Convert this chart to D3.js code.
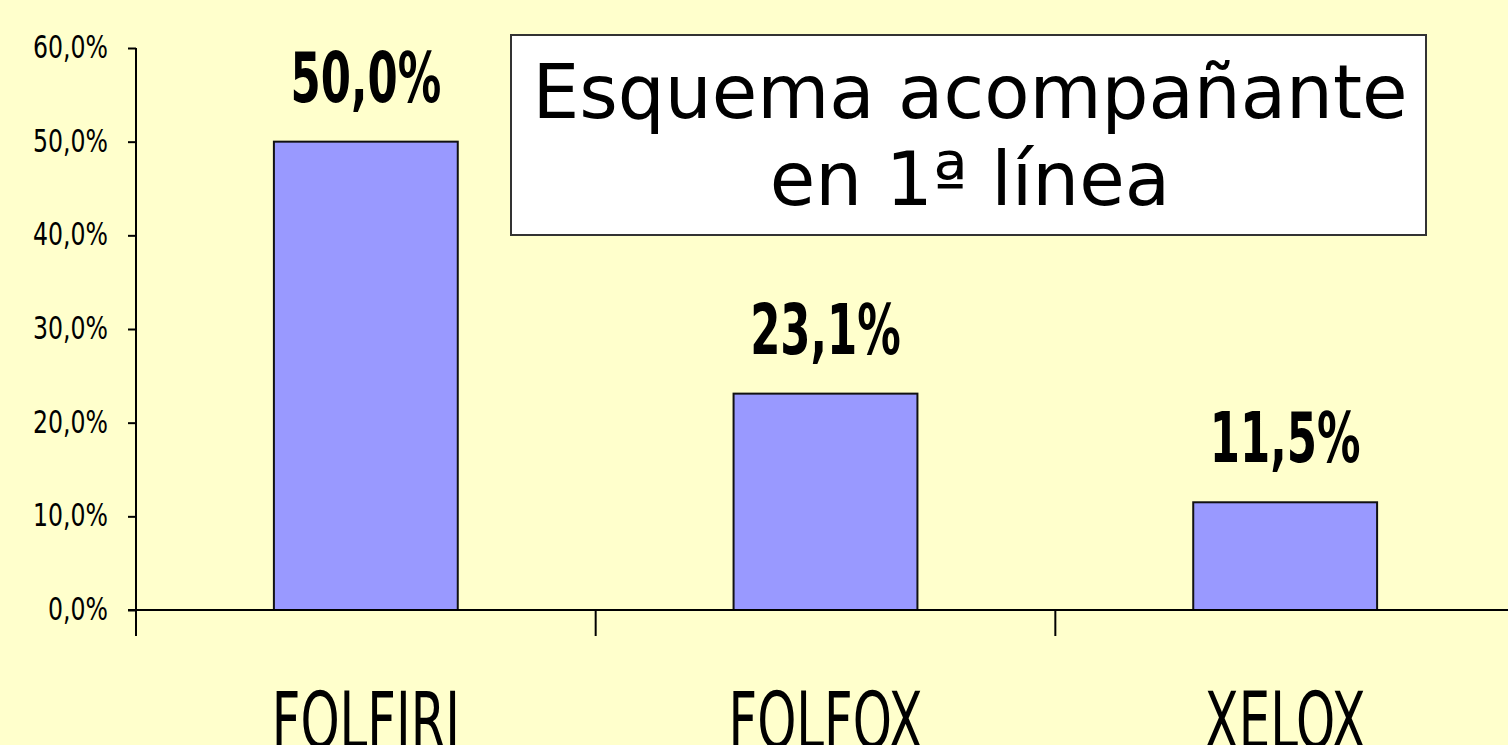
<!DOCTYPE html>
<html lang="es">
<head>
  <meta charset="UTF-8">
  <title>Esquema acompañante en 1ª línea</title>
  <script src="https://d3js.org/d3.v7.min.js"></script>
  <style>
    html, body { margin: 0; padding: 0; background: #ffffcc; overflow: hidden; }
    svg { display: block; }
    .narrow { font-family: "DejaVu Sans Condensed", "Liberation Sans", sans-serif; fill: #000; }
    .title { font-family: "DejaVu Sans", Verdana, sans-serif; fill: #000; }
  </style>
</head>
<body>
  <svg width="1508" height="745"></svg>

  <script>
    // chart data
    const categories = ["FOLFIRI", "FOLFOX", "XELOX"];
    const values = [0.500, 0.231, 0.115];
    const yTicks = [0, 0.1, 0.2, 0.3, 0.4, 0.5, 0.6];
    const titleLines = ["Esquema acompañante", "en 1ª línea"];

    const width = 1508, height = 745;
    const svg = d3.select("svg");

    svg.append("rect")
       .attr("width", width).attr("height", height)
       .attr("fill", "#ffffcc");

    // scales
    const y = d3.scaleLinear().domain([0, 0.6]).range([610, 48]);
    const x = d3.scaleBand()
                .domain(categories)
                .range([136, 1515])
                .paddingInner(0.6)
                .paddingOuter(0.3);

    const fmt = v => d3.format(".1f")(v * 100).replace(".", ",") + "%";

    // y axis
    const yAxis = svg.append("g")
                     .attr("transform", "translate(136,0)")
                     .call(d3.axisLeft(y).tickValues(yTicks).tickSize(8).tickFormat(fmt));
    yAxis.select(".domain").remove();
    yAxis.selectAll(".tick line").attr("stroke", "#000").attr("stroke-width", 2);
    yAxis.selectAll(".tick text")
         .attr("class", "narrow")
         .attr("x", 0)
         .attr("dy", "0.3em")
         .attr("font-size", 32)
         .attr("text-anchor", "end")
         .attr("transform", "translate(-28,0) scale(0.82,1)");

    svg.append("line")
       .attr("x1", 136).attr("x2", 136)
       .attr("y1", y(0.6)).attr("y2", 636)
       .attr("stroke", "#000").attr("stroke-width", 2);

    // bars
    svg.append("g")
       .selectAll("rect")
       .data(categories)
       .join("rect")
       .attr("x", d => x(d))
       .attr("y", (d, i) => y(values[i]))
       .attr("width", x.bandwidth())
       .attr("height", (d, i) => y(0) - y(values[i]))
       .attr("fill", "#9999ff")
       .attr("stroke", "#111")
       .attr("stroke-width", 2);

    // x axis line and category dividers
    svg.append("line")
       .attr("x1", 128).attr("x2", width)
       .attr("y1", y(0)).attr("y2", y(0))
       .attr("stroke", "#000").attr("stroke-width", 2);

    svg.append("g")
       .selectAll("line")
       .data(d3.range(categories.length + 1))
       .join("line")
       .attr("x1", i => 136 + i * x.step())
       .attr("x2", i => 136 + i * x.step())
       .attr("y1", y(0)).attr("y2", 636)
       .attr("stroke", "#000").attr("stroke-width", 2);

    // category labels (bottom edge cut as in the original slide)
    svg.append("g")
       .selectAll("text")
       .data(categories)
       .join("text")
       .attr("class", "narrow")
       .attr("font-size", 78)
       .attr("text-anchor", "middle")
       .attr("transform", d => `translate(${x(d) + x.bandwidth() / 2},748) scale(0.71,1)`)
       .text(d => d);

    // value labels
    svg.append("g")
       .selectAll("text")
       .data(categories)
       .join("text")
       .attr("class", "narrow")
       .attr("font-size", 70)
       .attr("font-weight", "bold")
       .attr("text-anchor", "middle")
       .attr("transform", (d, i) => `translate(${x(d) + x.bandwidth() / 2},${y(values[i]) - 40}) scale(0.69,1)`)
       .text((d, i) => fmt(values[i]));

    // title box
    svg.append("rect")
       .attr("x", 511).attr("y", 35)
       .attr("width", 915).attr("height", 200)
       .attr("fill", "#fff")
       .attr("stroke", "#333").attr("stroke-width", 2);

    svg.append("g")
       .selectAll("text")
       .data(titleLines)
       .join("text")
       .attr("class", "title")
       .attr("x", 970)
       .attr("y", (d, i) => 118 + i * 87)
       .attr("font-size", 74)
       .attr("text-anchor", "middle")
       .text(d => d);
  </script>
</body>
</html>
